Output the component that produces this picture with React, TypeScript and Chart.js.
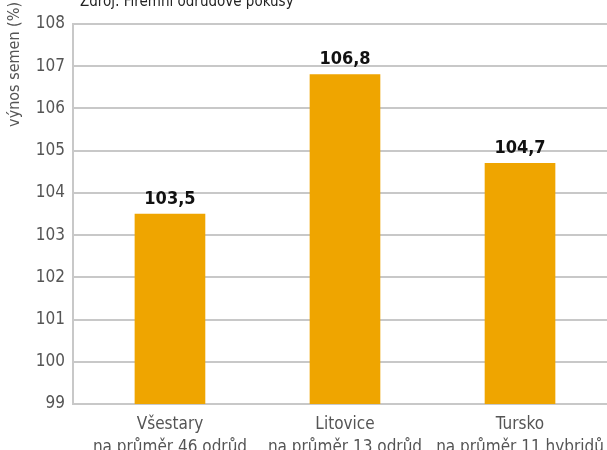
import React, { useEffect, useRef } from "react";
import { Chart, registerables } from "chart.js";

Chart.register(...registerables);

const categories: string[][] = [
  ["Všestary", "na průměr 46 odrůd"],
  ["Litovice", "na průměr 13 odrůd"],
  ["Tursko", "na průměr 11 hybridů"],
];
const values: number[] = [103.5, 106.8, 104.7];
const yMin = 99;
const yMax = 108;
const sourceText = "Zdroj: Firemní odrůdové pokusy";
const yTitle = "výnos semen (%)";

const FONT = "'Liberation Sans Narrow', 'DejaVu Sans Condensed', 'Roboto Condensed', sans-serif";

export default function App() {
  const ref = useRef<HTMLCanvasElement | null>(null);
  useEffect(() => {
    if (!ref.current) return;
    const overlay = {
      id: "overlay",
      afterDatasetsDraw(chart: any) {
        const ctx = chart.ctx;
        const meta = chart.getDatasetMeta(0);
        ctx.save();
        ctx.font = `bold 18px ${FONT}`;
        ctx.fillStyle = "#111";
        ctx.textAlign = "center";
        ctx.textBaseline = "bottom";
        meta.data.forEach((bar: any, i: number) => {
          ctx.fillText(values[i].toFixed(1).replace(".", ","), bar.x, bar.y - 6);
        });
        ctx.font = `15px ${FONT}`;
        ctx.fillStyle = "#222";
        ctx.textAlign = "left";
        ctx.textBaseline = "middle";
        ctx.fillText(sourceText, 80, 2);
        ctx.font = `16px ${FONT}`;
        ctx.translate(15, 2);
        ctx.rotate(-Math.PI / 2);
        ctx.fillStyle = "#555";
        ctx.textAlign = "right";
        ctx.fillText(yTitle, 0, 0);
        ctx.restore();
      },
    };
    const chart = new Chart(ref.current, {
      type: "bar",
      data: {
        datasets: [
          {
            data: values.map((v, i) => ({ x: i, y: v })),
            backgroundColor: "#EFA500",
            barThickness: 70,
          },
        ],
      },
      options: {
        animation: false,
        responsive: false,
        layout: { padding: { top: 24, right: 0, bottom: 0, left: 0 } },
        plugins: { legend: { display: false }, tooltip: { enabled: false } },
        scales: {
          x: {
            type: "linear",
            offset: false,
            min: -0.554,
            max: 2.497,
            afterBuildTicks: (scale: any) => {
              scale.ticks = categories.map((_, i) => ({ value: i }));
            },
            afterFit: (scale: any) => {
              scale.height = 46;
            },
            grid: { display: false },
            border: { color: "#c8c8c8", width: 2 },
            ticks: {
              autoSkip: false,
              maxRotation: 0,
              padding: 1,
              color: "#555",
              font: { family: FONT, size: 17, lineHeight: 1.35 },
              callback: (v: any) => categories[v as number],
            },
          },
          y: {
            min: yMin,
            max: yMax,
            afterFit: (scale: any) => {
              scale.width = 73;
            },
            grid: { color: "#c8c8c8", lineWidth: 2, drawTicks: false },
            border: { color: "#c8c8c8", width: 2 },
            ticks: {
              stepSize: 1,
              padding: 8,
              color: "#555",
              font: { family: FONT, size: 17 },
            },
          },
        },
      },
      plugins: [overlay],
    });
    return () => chart.destroy();
  }, []);
  return (
    <div style={{ position: "fixed", left: 0, top: 0, width: 607, height: 450, background: "#fff" }}>
      <canvas ref={ref} width={607} height={450} style={{ width: 607, height: 450, display: "block" }} />
    </div>
  );
}
